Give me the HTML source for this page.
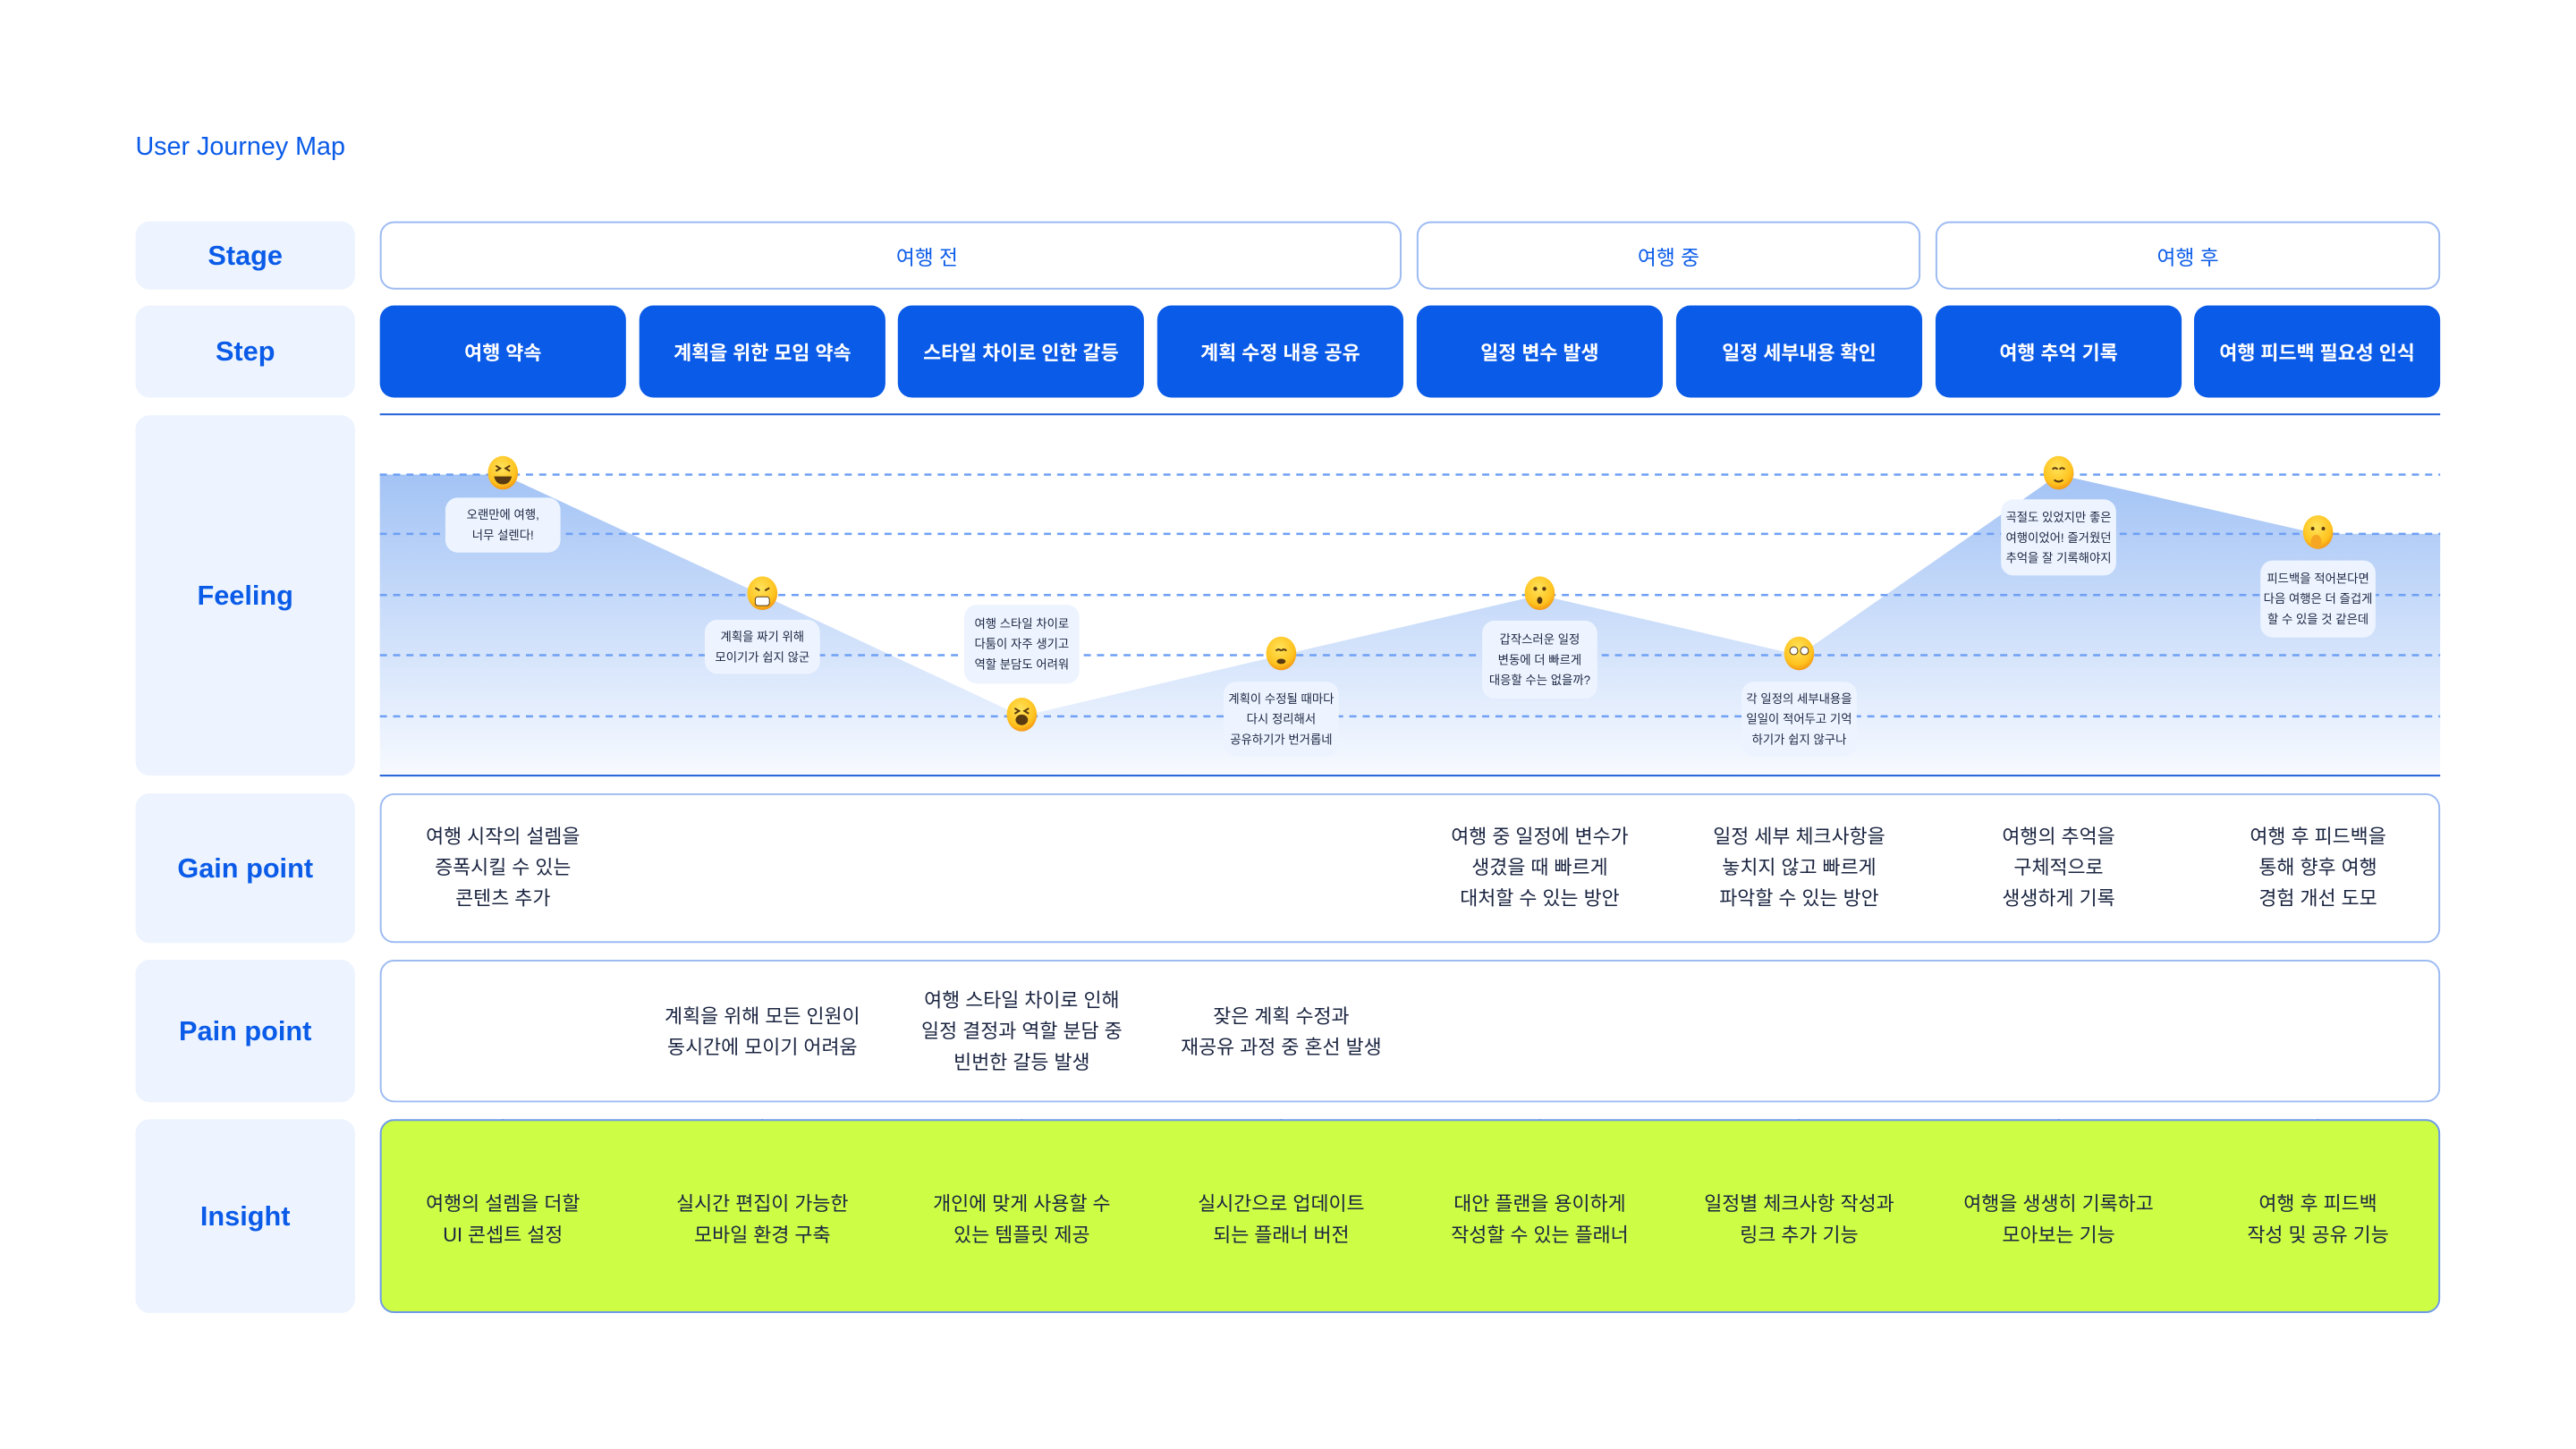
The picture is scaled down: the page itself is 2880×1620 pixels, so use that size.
<!DOCTYPE html>
<html><head><meta charset="utf-8"><style>
*{margin:0;padding:0;box-sizing:border-box}
body{width:2880px;height:1620px;background:#fff;position:relative;overflow:hidden;font-family:"Liberation Sans","Noto Sans CJK KR",sans-serif}
#w{position:absolute;left:0;top:0;width:2880px;height:1620px;transform:scale(0.9899);transform-origin:0 0}
.a{position:absolute}
.lab{position:absolute;left:153px;width:248px;background:#EDF4FF;border-radius:16px;color:#0A5BE8;font-weight:bold;font-size:31px;display:flex;align-items:center;justify-content:center}
.stage{position:absolute;top:250px;height:77px;border:2px solid #9DBBF2;border-radius:16px;background:#fff;color:#0A5BE8;font-size:23px;display:flex;align-items:center;justify-content:center}
.step{position:absolute;top:345px;height:104px;width:278px;background:#0A5BE8;border-radius:16px;color:#fff;font-weight:bold;font-size:22px;display:flex;align-items:center;justify-content:center}
.box{position:absolute;left:429px;width:2327px;border:2px solid #9DBBF2;border-radius:16px;background:#fff}
.t{position:absolute;width:292px;text-align:center;color:#1a2440;font-size:22px;line-height:35px}
.bub{position:absolute;width:130px;background:#EDF4FF;border-radius:14px;text-align:center;color:#1a2440;font-size:13.5px;line-height:23px;display:flex;align-items:center;justify-content:center;flex-direction:column}
</style></head><body><div id="w">
<div class="a" style="left:153px;top:150px;color:#0A5BE8;font-size:29px">User Journey Map</div>

<div class="lab" style="top:250px;height:77px">Stage</div>
<div class="lab" style="top:345px;height:104px">Step</div>
<div class="lab" style="top:469px;height:407px">Feeling</div>
<div class="lab" style="top:896px;height:169px">Gain point</div>
<div class="lab" style="top:1084px;height:161px">Pain point</div>
<div class="lab" style="top:1264px;height:219px">Insight</div>

<div class="stage" style="left:429px;width:1154px;padding-left:82px">여행 전</div>
<div class="stage" style="left:1600px;width:569px">여행 중</div>
<div class="stage" style="left:2186px;width:570px">여행 후</div>

<div class="step" style="left:429px">여행 약속</div>
<div class="step" style="left:722px">계획을 위한 모임 약속</div>
<div class="step" style="left:1014px">스타일 차이로 인한 갈등</div>
<div class="step" style="left:1307px">계획 수정 내용 공유</div>
<div class="step" style="left:1600px">일정 변수 발생</div>
<div class="step" style="left:1893px">일정 세부내용 확인</div>
<div class="step" style="left:2186px">여행 추억 기록</div>
<div class="step" style="left:2478px">여행 피드백 필요성 인식</div>

<svg class="a" style="left:0;top:0" width="2880" height="1620">
<defs>
<linearGradient id="g" gradientUnits="userSpaceOnUse" x1="0" y1="536" x2="0" y2="876"><stop offset="0" stop-color="#A3C3F5"/><stop offset="1" stop-color="#F7FAFF"/></linearGradient>
<radialGradient id="e" cx="0.45" cy="0.35" r="0.7"><stop offset="0" stop-color="#FFE35A"/><stop offset="0.7" stop-color="#FFC21E"/><stop offset="1" stop-color="#F08A10"/></radialGradient>
</defs>
<polygon fill="url(#g)" points="429,536 568,536 861,672 1154,809 1447,740 1739,672 2032,740 2325,536 2618,603 2756,603 2756,876 429,876"/>
<line x1="429" y1="468" x2="2756" y2="468" stroke="#1F5FD8" stroke-width="2"/>
<line x1="429" y1="876" x2="2756" y2="876" stroke="#1F5FD8" stroke-width="2"/>
<g stroke="#6FA0F5" stroke-width="2.5" stroke-dasharray="8,7">
<line x1="429" y1="536" x2="2756" y2="536"/><line x1="429" y1="603" x2="2756" y2="603"/><line x1="429" y1="672" x2="2756" y2="672"/><line x1="429" y1="740" x2="2756" y2="740"/><line x1="429" y1="809" x2="2756" y2="809"/>
</g>
<g fill="url(#e)">
<ellipse cx="568" cy="534" rx="17" ry="19"/><ellipse cx="861" cy="670" rx="17" ry="19"/><ellipse cx="1154" cy="807" rx="17" ry="19"/><ellipse cx="1447" cy="738" rx="17" ry="19"/><ellipse cx="1739" cy="670" rx="17" ry="19"/><ellipse cx="2032" cy="738" rx="17" ry="19"/><ellipse cx="2325" cy="534" rx="17" ry="19"/><ellipse cx="2618" cy="601" rx="17" ry="19"/>
</g>
<g fill="none" stroke="#5a3a10" stroke-width="2">
<path d="M560 526l5 3-5 3M576 526l-5 3 5 3"/><path d="M1146 800l5 3-5 3M1162 800l-5 3 5 3"/>
<path d="M853 664l5 3M869 664l-5 3"/><path d="M1441 735q3-3 6 0M1453 735q-3-3-6 0"/>
<path d="M2318 530q3-3 6 0M2332 530q-3-3-6 0M2320 542q5 4 10 0"/>
</g>
<g fill="#5a3a10">
<path d="M558 538h20q-2 9-10 9q-8 0-10-9z"/><ellipse cx="1154" cy="813" rx="7" ry="6"/>
<rect x="853" y="674" width="16" height="10" rx="3" fill="#fff" stroke="#5a3a10"/>
<ellipse cx="1447" cy="747" rx="5" ry="3"/>
<ellipse cx="1739" cy="678" rx="3" ry="4"/><circle cx="1734" cy="665" r="2.2"/><circle cx="1744" cy="665" r="2.2"/>
<circle cx="2026" cy="735" r="4.5" fill="#fff" stroke="#5a3a10"/><circle cx="2038" cy="735" r="4.5" fill="#fff" stroke="#5a3a10"/>
<circle cx="2612" cy="597" r="2"/><circle cx="2624" cy="597" r="2"/>
<ellipse cx="2616" cy="612" rx="6" ry="8" fill="#F5A623"/>
</g>
<g stroke="#1F5FD8" stroke-width="2" fill="#0A5BE8">
<line x1="568" y1="1264" x2="568" y2="1288"/><circle cx="568" cy="1288" r="5"/>
<line x1="861" y1="1264" x2="861" y2="1288"/><circle cx="861" cy="1288" r="5"/>
<line x1="1154" y1="1264" x2="1154" y2="1288"/><circle cx="1154" cy="1288" r="5"/>
<line x1="1447" y1="1264" x2="1447" y2="1288"/><circle cx="1447" cy="1288" r="5"/>
<line x1="1739" y1="1264" x2="1739" y2="1288"/><circle cx="1739" cy="1288" r="5"/>
<line x1="2032" y1="1264" x2="2032" y2="1288"/><circle cx="2032" cy="1288" r="5"/>
<line x1="2325" y1="1264" x2="2325" y2="1288"/><circle cx="2325" cy="1288" r="5"/>
<line x1="2618" y1="1264" x2="2618" y2="1288"/><circle cx="2618" cy="1288" r="5"/>
</g>
</svg>

<div class="bub" style="left:503px;top:562px;height:62px"><div>오랜만에 여행,</div><div>너무 설렌다!</div></div>
<div class="bub" style="left:796px;top:700px;height:61px"><div>계획을 짜기 위해</div><div>모이기가 쉽지 않군</div></div>
<div class="bub" style="left:1089px;top:683px;height:89px"><div>여행 스타일 차이로</div><div>다툼이 자주 생기고</div><div>역할 분담도 어려워</div></div>
<div class="bub" style="left:1382px;top:770px;height:84px"><div>계획이 수정될 때마다</div><div>다시 정리해서</div><div>공유하기가 번거롭네</div></div>
<div class="bub" style="left:1674px;top:701px;height:88px"><div>갑작스러운 일정</div><div>변동에 더 빠르게</div><div>대응할 수는 없을까?</div></div>
<div class="bub" style="left:1967px;top:770px;height:84px"><div>각 일정의 세부내용을</div><div>일일이 적어두고 기억</div><div>하기가 쉽지 않구나</div></div>
<div class="bub" style="left:2260px;top:564px;height:86px"><div>곡절도 있었지만 좋은</div><div>여행이었어! 즐거웠던</div><div>추억을 잘 기록해야지</div></div>
<div class="bub" style="left:2553px;top:633px;height:87px"><div>피드백을 적어본다면</div><div>다음 여행은 더 즐겁게</div><div>할 수 있을 것 같은데</div></div>

<div class="box" style="top:896px;height:169px"></div>
<div class="t" style="left:422px;top:927px">여행 시작의 설렘을<br>증폭시킬 수 있는<br>콘텐츠 추가</div>
<div class="t" style="left:1593px;top:927px">여행 중 일정에 변수가<br>생겼을 때 빠르게<br>대처할 수 있는 방안</div>
<div class="t" style="left:1886px;top:927px">일정 세부 체크사항을<br>놓치지 않고 빠르게<br>파악할 수 있는 방안</div>
<div class="t" style="left:2179px;top:927px">여행의 추억을<br>구체적으로<br>생생하게 기록</div>
<div class="t" style="left:2472px;top:927px">여행 후 피드백을<br>통해 향후 여행<br>경험 개선 도모</div>

<div class="box" style="top:1084px;height:161px"></div>
<div class="t" style="left:715px;top:1130px">계획을 위해 모든 인원이<br>동시간에 모이기 어려움</div>
<div class="t" style="left:1008px;top:1112px">여행 스타일 차이로 인해<br>일정 결정과 역할 분담 중<br>빈번한 갈등 발생</div>
<div class="t" style="left:1301px;top:1130px">잦은 계획 수정과<br>재공유 과정 중 혼선 발생</div>

<div class="box" style="top:1264px;height:219px;background:#CEFD45;border-color:#6E9BE8"></div>
<div class="t" style="left:422px;top:1342px">여행의 설렘을 더할<br>UI 콘셉트 설정</div>
<div class="t" style="left:715px;top:1342px">실시간 편집이 가능한<br>모바일 환경 구축</div>
<div class="t" style="left:1008px;top:1342px">개인에 맞게 사용할 수<br>있는 템플릿 제공</div>
<div class="t" style="left:1301px;top:1342px">실시간으로 업데이트<br>되는 플래너 버전</div>
<div class="t" style="left:1593px;top:1342px">대안 플랜을 용이하게<br>작성할 수 있는 플래너</div>
<div class="t" style="left:1886px;top:1342px">일정별 체크사항 작성과<br>링크 추가 기능</div>
<div class="t" style="left:2179px;top:1342px">여행을 생생히 기록하고<br>모아보는 기능</div>
<div class="t" style="left:2472px;top:1342px">여행 후 피드백<br>작성 및 공유 기능</div>
</div></body></html>
